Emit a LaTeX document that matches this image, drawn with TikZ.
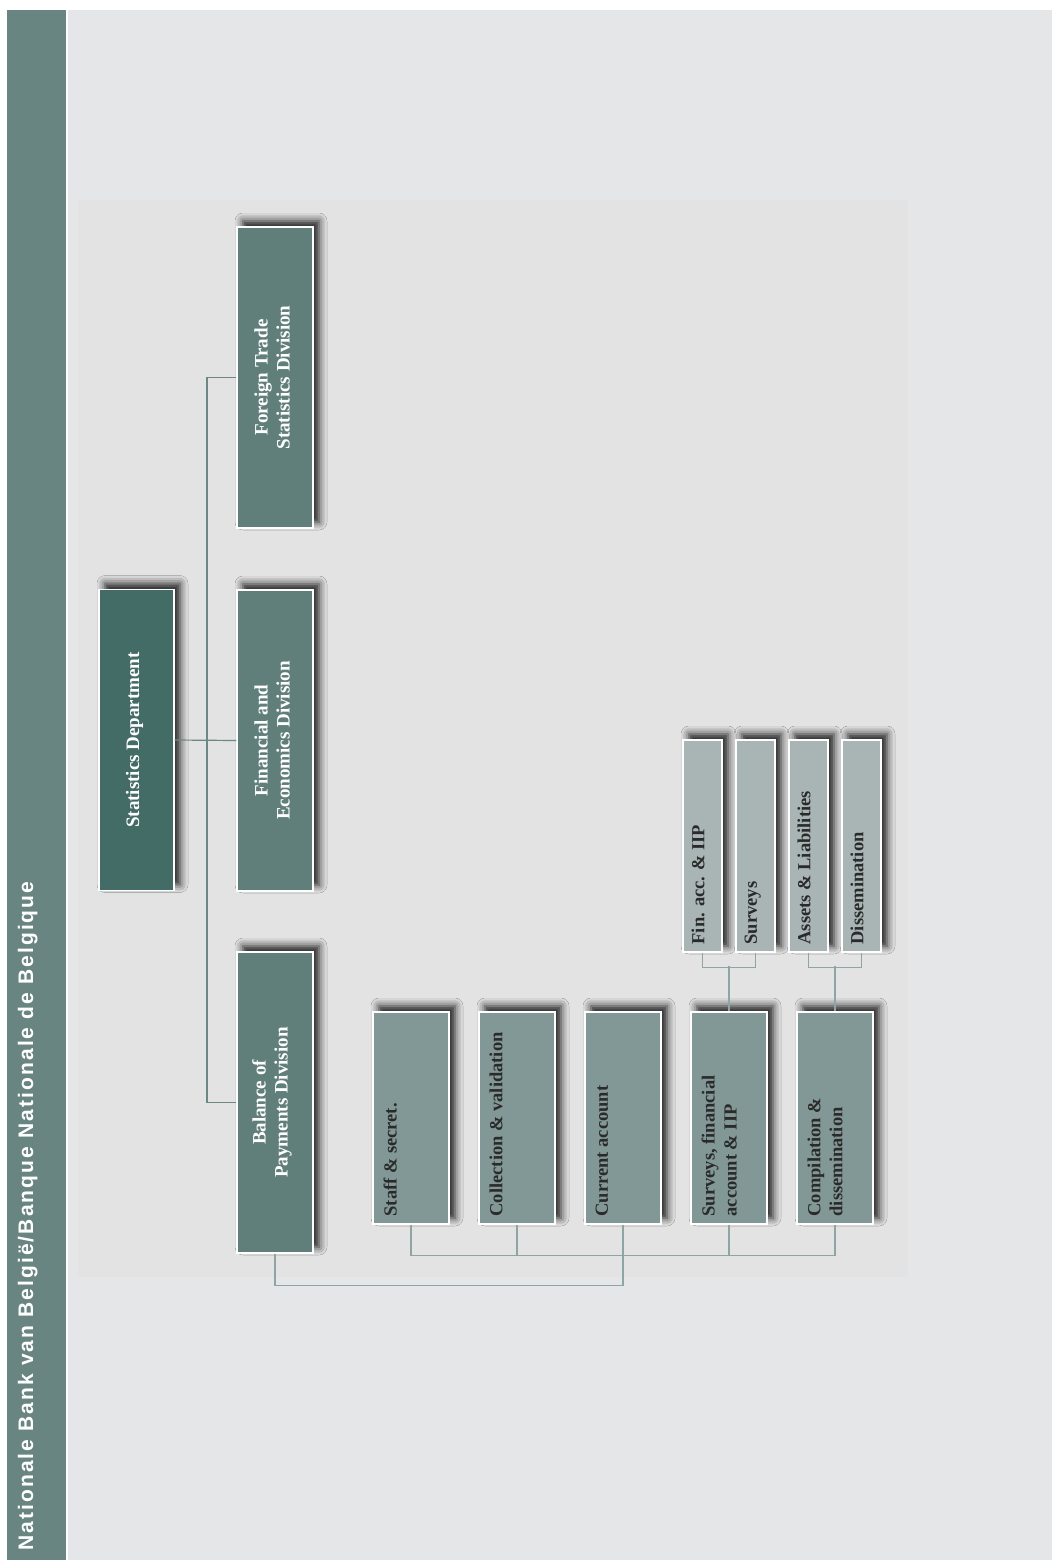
\documentclass[tikz,border=0pt]{standalone}
\usepackage{fontspec}
\setmainfont{Liberation Serif}
\newfontfamily\bannerfont[LetterSpace=10]{Liberation Sans}
\usetikzlibrary{shadows.blur}
\definecolor{bgc}{HTML}{E5E6E8}
\definecolor{panelc}{HTML}{E3E3E3}
\definecolor{bandc}{HTML}{698582}
\definecolor{deptc}{HTML}{436C67}
\definecolor{divc}{HTML}{607E7A}
\definecolor{secc}{HTML}{829896}
\definecolor{unitc}{HTML}{A8B5B4}
\definecolor{linelo}{HTML}{8FA5A3}
\definecolor{linehi}{HTML}{6A8884}
\definecolor{txtdark}{HTML}{2A2A2A}
\tikzset{
  orgbox/.style={draw=white, line width=1.2pt, inner sep=0pt,
    blur shadow={shadow xshift=6pt, shadow yshift=6pt, shadow blur radius=8pt, shadow opacity=90}},
  deptbox/.style={orgbox, fill=deptc, minimum width=75pt, minimum height=301pt},
  divbox/.style={orgbox, fill=divc, minimum width=76pt, minimum height=301pt},
  secbox/.style={orgbox, fill=secc, minimum width=76pt, minimum height=212pt},
  unitbox/.style={orgbox, fill=unitc, minimum width=39pt, minimum height=212pt},
  whitetxt/.style={rotate=90, align=center, text=white, inner sep=0pt,
    font=\bfseries\fontsize{19}{22}\selectfont},
  darktxt/.style={rotate=90, align=left, text=txtdark, inner sep=0pt, anchor=north west,
    font=\bfseries\fontsize{18.5}{22}\selectfont},
  connhi/.style={draw=linehi, line width=1.2pt},
  connlo/.style={draw=linelo, line width=1.4pt},
}
\begin{document}
\begin{tikzpicture}[x=1pt, y=-1pt]
\useasboundingbox (0,0) rectangle (1052,1560);
\fill[white] (0,0) rectangle (1052,1560);
\fill[bgc] (68,10) rectangle (1052,1560);
\fill[bandc] (7,10) rectangle (66,1560);
\fill[panelc] (78,200) rectangle (908,1277);

\node[rotate=90, anchor=base west, text=white, inner sep=0pt,
  font=\bannerfont\bfseries\fontsize{21}{24}\selectfont] (banner) at (33,1551)
  {Nationale Bank van België/Banque Nationale de Belgique};

% level 1
\node[deptbox] (sd) at (136.5,740) {};
\node[divbox] (ft) at (275,377.5) {};
\node[divbox] (fe) at (275,740.5) {};
\node[divbox] (bp) at (275,1102.5) {};
\node[whitetxt] (sd-t) at ([xshift=-2pt]sd.center) {Statistics Department};
\node[whitetxt] (ft-t) at ([xshift=-3pt]ft.center) {Foreign Trade\\Statistics Division};
\node[whitetxt] (fe-t) at ([xshift=-3pt]fe.center) {Financial and\\Economics Division};
\node[whitetxt] (bp-t) at ([xshift=-3pt]bp.center) {Balance of\\Payments Division};

% level 2
\node[secbox] (staff) at (411,1118) {};
\node[secbox] (coll) at (517,1118) {};
\node[secbox] (cur) at (623,1118) {};
\node[secbox] (surv) at (729,1118) {};
\node[secbox] (comp) at (835,1118) {};
\node[darktxt] (staff-t) at ([xshift=11pt,yshift=8pt]staff.south west) {Staff \& secret.};
\node[darktxt] (coll-t) at ([xshift=11pt,yshift=8pt]coll.south west) {Collection \& validation};
\node[darktxt] (cur-t) at ([xshift=11pt,yshift=8pt]cur.south west) {Current account};
\node[darktxt] (surv-t) at ([xshift=11pt,yshift=8pt]surv.south west) {Surveys, financial\\account \& IIP};
\node[darktxt] (comp-t) at ([xshift=11pt,yshift=8pt]comp.south west) {Compilation \&\\dissemination};

% level 3
\node[unitbox] (fin) at (702.5,846) {};
\node[unitbox] (svy) at (755.5,846) {};
\node[unitbox] (asl) at (808.5,846) {};
\node[unitbox] (dis) at (861.5,846) {};
\node[darktxt] (fin-t) at ([xshift=9pt,yshift=8pt]fin.south west) {Fin. acc. \& IIP};
\node[darktxt] (svy-t) at ([xshift=9pt,yshift=8pt]svy.south west) {Surveys};
\node[darktxt] (asl-t) at ([xshift=9pt,yshift=8pt]asl.south west) {Assets \& Liabilities};
\node[darktxt] (dis-t) at ([xshift=9pt,yshift=8pt]dis.south west) {Dissemination};

% connectors level 1
\coordinate (jt) at (207,377.5);
\coordinate (jb) at (207,1102.5);
\draw[connhi] (sd.east) -- (fe.west);
\draw[connhi] (ft.west) -- (jt) -- (jb) -- (bp.west);

% connectors level 2
\draw[connlo] (staff.south) -- ++(0,31) -| (comp.south);
\draw[connlo] (coll.south) -- ++(0,31);
\draw[connlo] (surv.south) -- ++(0,31);
\draw[connlo] (cur.south) -- ++(0,61) -| (bp.south);

% connectors level 3
\draw[connlo] (fin.south) -- ++(0,15) -| (svy.south);
\draw[connlo] (asl.south) -- ++(0,15) -| (dis.south);
\draw[connlo] (surv.north) -- ++(0,-45);
\draw[connlo] (comp.north) -- ++(0,-45);
\end{tikzpicture}
\end{document}
